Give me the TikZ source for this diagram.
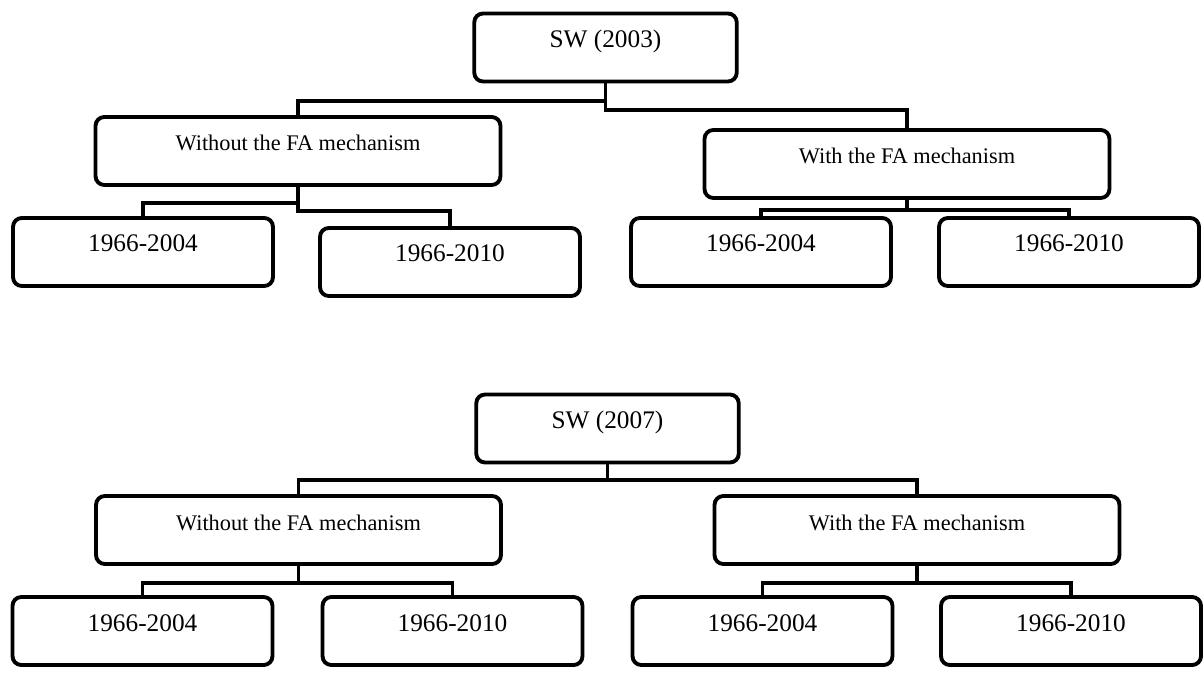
\documentclass[tikz,border=0pt]{standalone}
\usepackage{fontspec}
\setmainfont{Liberation Serif}
\usetikzlibrary{positioning}

\begin{document}
\begin{tikzpicture}[x=0.02cm, y=-0.02cm,
      box/.style={draw, line width=2.2pt, rounded corners=5pt, inner sep=0pt,
                  minimum height=1.36cm, text height=9pt, text depth=9pt, align=center},
      root/.style={box, minimum width=5.25cm, font=\fontsize{14.4}{16}\selectfont},
      mech/.style={box, minimum width=8.1cm, font=\fontsize{12.7}{15}\selectfont},
      period/.style={box, minimum width=5.2cm, font=\fontsize{14.4}{16}\selectfont},
      link/.style={line width=2.2pt},
    ]
      \useasboundingbox (0,0) rectangle (1203,675);

      % first tree
      \node[root]   (sw03)  at (605.5,47.5) {SW (2003)};
      \node[mech]   (wo03)  at (298,151)    {Without the FA mechanism};
      \node[mech]   (wi03)  at (907,164)    {With the FA mechanism};
      \node[period] (wo03a) at (143,252)    {1966-2004};
      \node[period] (wo03b) at (450,262)    {1966-2010};
      \node[period] (wi03a) at (761,252)    {1966-2004};
      \node[period] (wi03b) at (1069,252)   {1966-2010};

      \draw[link] (sw03.south) -- ++(0,18) -| (wo03.north);
      \draw[link] (sw03.south) -- ++(0,27) -| (wi03.north);
      \draw[link] (wo03.south) -- ++(0,16) -| (wo03a.north);
      \draw[link] (wo03.south) -- ++(0,24) -| (wo03b.north);
      \draw[link] (wi03.south) -- ++(0,10) -| (wi03a.north);
      \draw[link] (wi03.south) -- ++(0,10) -| (wi03b.north);

      % second tree
      \node[root]   (sw07)  at (607.5,428.5) {SW (2007)};
      \node[mech]   (wo07)  at (298.5,530)   {Without the FA mechanism};
      \node[mech]   (wi07)  at (917,530)     {With the FA mechanism};
      \node[period] (wo07a) at (142.5,631)   {1966-2004};
      \node[period] (wo07b) at (452.5,631)   {1966-2010};
      \node[period] (wi07a) at (762.5,631)   {1966-2004};
      \node[period] (wi07b) at (1071,631)    {1966-2010};

      \draw[link] (sw07.south) -- ++(0,16) -| (wo07.north);
      \draw[link] (sw07.south) -- ++(0,16) -| (wi07.north);
      \draw[link] (wo07.south) -- ++(0,17) -| (wo07a.north);
      \draw[link] (wo07.south) -- ++(0,17) -| (wo07b.north);
      \draw[link] (wi07.south) -- ++(0,17) -| (wi07a.north);
      \draw[link] (wi07.south) -- ++(0,17) -| (wi07b.north);
    \end{tikzpicture}
\end{document}
